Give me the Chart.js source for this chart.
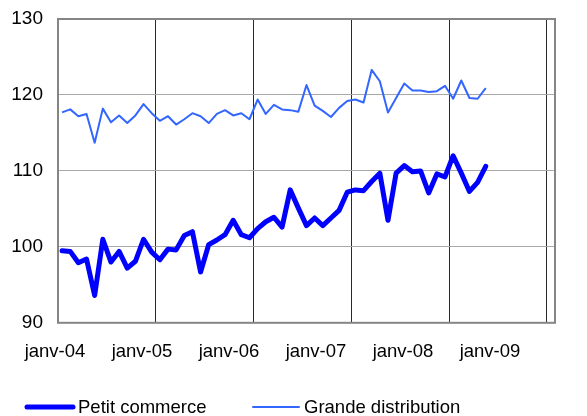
<!DOCTYPE html>
<html>
<head>
<meta charset="utf-8">
<script src="https://cdn.jsdelivr.net/npm/chart.js@4/dist/chart.umd.min.js"></script>
<style>
html, body { margin: 0; padding: 0; background: #fff; }
</style>
</head>
<body>
<canvas id="chart" width="587" height="416"></canvas>
<script>
// Monthly indices, janv-04 .. mai-08
const yearLabels = ['janv-04', 'janv-05', 'janv-06', 'janv-07', 'janv-08', 'janv-09'];

const petitCommerce = [
    99.5, 99.4, 97.9, 98.4, 93.6, 101.0, 98.0, 99.4, 97.2, 98.1, 101.0, 99.3,
    98.3, 99.7, 99.6, 101.5, 102.0, 96.7, 100.3, 100.9, 101.6, 103.5, 101.6, 101.2,
    102.4, 103.3, 103.9, 102.6, 107.5, 105.1, 102.8, 103.8, 102.8, 103.8, 104.8, 107.2,
    107.5, 107.4, 108.6, 109.7, 103.5, 109.7, 110.7, 109.9, 110.0, 107.1, 109.6, 109.2,
    112.0, 109.7, 107.3, 108.5, 110.6
];

const grandeDistribution = [
    117.7, 118.1, 117.2, 117.5, 113.7, 118.2, 116.4, 117.3, 116.3, 117.3, 118.8, 117.6,
    116.6, 117.2, 116.1, 116.8, 117.6, 117.2, 116.3, 117.5, 118.0, 117.3, 117.6, 116.8,
    119.4, 117.5, 118.7, 118.1, 118.0, 117.8, 121.3, 118.6, 117.9, 117.1, 118.3, 119.2,
    119.4, 119.0, 123.3, 121.8, 117.7, 119.6, 121.5, 120.6, 120.6, 120.4, 120.5, 121.2,
    119.5, 121.9, 119.6, 119.5, 120.9
];

const yMin = 90, yMax = 130, yStep = 10;

// month i sits in the middle of its month slot
function toPoints(arr) {
    return arr.map((v, i) => ({ x: i + 0.5, y: v }));
}

const labelFont = { family: '"Liberation Sans", Arial, sans-serif', size: 18.5 };

// grey frame round the plot area
const framePlugin = {
    id: 'frame',
    beforeDatasetsDraw(chart) {
        const a = chart.chartArea;
        const ctx = chart.ctx;
        ctx.save();
        ctx.strokeStyle = '#858585';
        ctx.lineWidth = 2;
        ctx.strokeRect(a.left, a.top, a.right - a.left, a.bottom - a.top);
        ctx.restore();
    }
};

// legend under the chart, like the original
const legendPlugin = {
    id: 'bottomLegend',
    afterDraw(chart) {
        const ctx = chart.ctx;
        const starts = [25, 251];
        ctx.save();
        ctx.font = '18.5px "Liberation Sans", Arial, sans-serif';
        ctx.textBaseline = 'alphabetic';
        chart.data.datasets.forEach((ds, i) => {
            const x = starts[i];
            ctx.strokeStyle = ds.borderColor;
            ctx.lineWidth = ds.borderWidth;
            ctx.lineCap = 'round';
            ctx.beginPath();
            ctx.moveTo(x + 2, 407);
            ctx.lineTo(x + 48, 407);
            ctx.stroke();
            ctx.fillStyle = '#000';
            ctx.fillText(ds.label, x + 53, 413);
        });
        ctx.restore();
    }
};

new Chart(document.getElementById('chart'), {
    type: 'line',
    data: {
        datasets: [
            {
                label: 'Petit commerce',
                data: toPoints(petitCommerce),
                borderColor: '#0000ff',
                borderWidth: 5,
                borderCapStyle: 'round',
                borderJoinStyle: 'round',
                pointRadius: 0,
                tension: 0,
                xAxisID: 'x'
            },
            {
                label: 'Grande distribution',
                data: toPoints(grandeDistribution),
                borderColor: '#3366ff',
                borderWidth: 2,
                borderJoinStyle: 'round',
                pointRadius: 0,
                tension: 0,
                xAxisID: 'x'
            }
        ]
    },
    options: {
        responsive: false,
        animation: false,
        devicePixelRatio: 1,
        layout: { padding: { top: 19, right: 32, bottom: 35, left: 0 } },
        plugins: {
            legend: { display: false },
            tooltip: { enabled: false }
        },
        scales: {
            x: {
                type: 'linear',
                min: 0,
                max: 61,
                afterBuildTicks: s => { s.ticks = yearLabels.map((l, k) => ({ value: k * 12 })); },
                ticks: { display: false },
                grid: { color: '#2a2a2a', lineWidth: 1, drawTicks: false },
                border: { display: false }
            },
            x2: {
                type: 'linear',
                position: 'bottom',
                min: 0.0345,
                max: 5.747,
                afterBuildTicks: s => { s.ticks = yearLabels.map((l, k) => ({ value: k })); },
                ticks: {
                    autoSkip: false,
                    maxRotation: 0,
                    padding: 18,
                    color: '#000',
                    font: labelFont,
                    callback: v => yearLabels[v]
                },
                grid: { display: false, drawTicks: false },
                border: { display: false }
            },
            y: {
                min: yMin,
                max: yMax,
                ticks: {
                    stepSize: yStep,
                    padding: 15,
                    color: '#000',
                    font: { family: '"Liberation Sans", Arial, sans-serif', size: 19 }
                },
                afterFit: s => { s.width = 58; s.paddingTop = 0; s.paddingBottom = 0; },
                grid: { color: '#a8a8a8', lineWidth: 1, drawTicks: false },
                border: { display: false }
            }
        }
    },
    plugins: [framePlugin, legendPlugin]
});
</script>
</body>
</html>
